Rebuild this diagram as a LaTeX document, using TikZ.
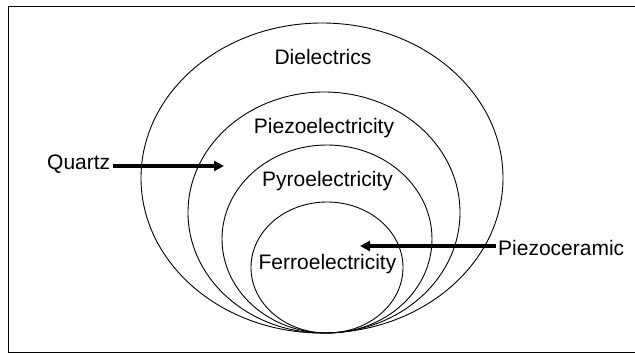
\documentclass[tikz,border=0pt]{standalone}
\usepackage{fontspec}
\setmainfont{Liberation Sans}
\usetikzlibrary{arrows.meta}
\begin{document}
\begin{tikzpicture}[x=1pt,y=-1pt,
  lbl/.style={font=\fontsize{21}{25}\selectfont, inner sep=0pt, anchor=center},
  ring/.style={draw=black, line width=0.9pt},
  fatarrow/.style={draw=black, line width=3.4pt, -{Triangle[length=10pt,width=10pt]}},
  frame/.style={draw=black, line width=0.9pt}]
\useasboundingbox (0,0) rectangle (635,353);
% frame
\draw[frame] (8.5,6.5) -- (636,6.5);
\draw[frame] (8.5,6.5) -- (8.5,353);
\draw[frame] (8.5,352) -- (636,352);
% ellipses
\draw[ring] (322,178) ellipse [x radius=181, y radius=155];
\draw[ring] (324,212.5) ellipse [x radius=136, y radius=120.5];
\draw[ring] (327,239) ellipse [x radius=105, y radius=94];
\draw[ring] (327,267.5) ellipse [x radius=76, y radius=65.5];
% labels
\node[lbl] (diel) at (323,57) {Dielectrics};
\node[lbl] (piezo) at (324,128) {Piezoelectricity};
\node[lbl] (pyro) at (327.5,181) {Pyroelectricity};
\node[lbl] (ferro) at (327.5,264) {Ferroelectricity};
\node[lbl, anchor=west] (quartz) at (47,164) {Quartz};
\node[lbl, anchor=west] (pceram) at (498,248) {Piezoceramic};
% arrows
\coordinate (qend) at (224,166);
\coordinate (pend) at (360,246);
\draw[fatarrow] (quartz.east |- qend) ++(3,0) -- (qend);
\draw[fatarrow] (pceram.west |- pend) ++(-2,0) -- (pend);
\end{tikzpicture}
\end{document}
